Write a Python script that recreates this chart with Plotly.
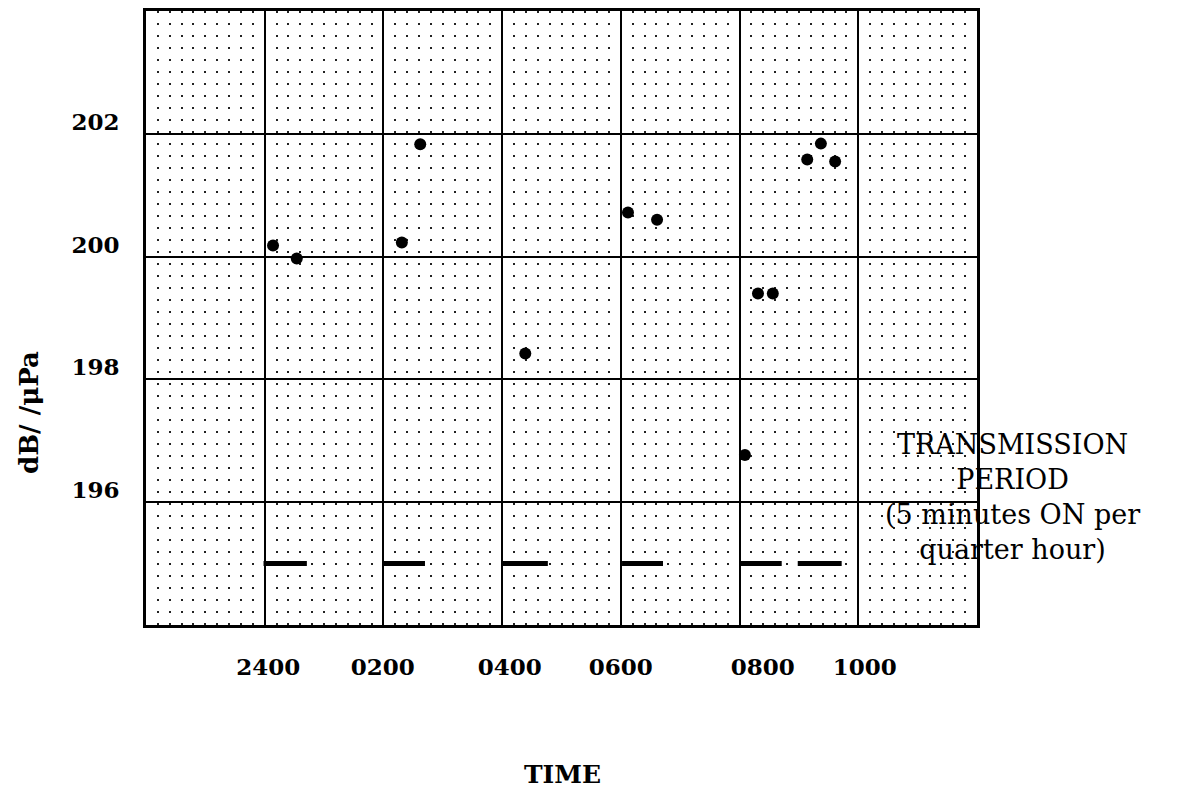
import plotly.graph_objects as go

# ---- data (hours since 2200 of the previous day; 24 = 2400) ----
time_h = [24.14, 24.54, 26.31, 26.62, 28.39, 30.12, 30.61, 32.09, 32.31, 32.56, 33.14, 33.37, 33.61]
level_db = [200.18, 199.97, 200.23, 201.83, 198.42, 200.72, 200.60, 196.77, 199.40, 199.40, 201.58, 201.84, 201.55]

tx_start = [23.98, 25.99, 28.01, 30.02, 32.01, 32.98]
tx_end = [24.71, 26.70, 28.77, 30.71, 32.71, 33.72]
tx_level = 195.0

x_tick_pos = [24.06, 25.99, 28.13, 30.0, 32.39, 34.11]
x_tick_text = ["2400", "0200", "0400", "0600", "0800", "1000"]
y_tick_vals = [196, 198, 200, 202]
y_tick_text = ["196", "198", "200", "202"]

FONT = "DejaVu Serif"
W, H = 1181, 790
L, R, T, B = 138, 212, 0, 173
PW, PH = W - L - R, H - T - B
OFF = 8  # page body margin


def px(sx):
    return (sx - OFF - L) / PW


def py(sy):
    return (H - B - (sy - OFF)) / PH


# transmission segments
seg_x, seg_y = [], []
for s, e in zip(tx_start, tx_end):
    seg_x += [s, e, None]
    seg_y += [tx_level, tx_level, None]

fig = go.Figure()
fig.add_trace(go.Scatter(x=seg_x, y=seg_y, mode="lines",
                         line=dict(color="black", width=5), hoverinfo="skip",
                         showlegend=False))
fig.add_trace(go.Scatter(x=time_h, y=level_db, mode="markers",
                         marker=dict(color="black", size=12),
                         showlegend=False))
fig.add_trace(go.Scatter(x=[None], y=[None], xaxis="x2", yaxis="y",
                         showlegend=False, hoverinfo="skip"))

tickfont = dict(family=FONT, size=23, color="black", weight="bold")

fig.update_layout(
    width=W, height=H,
    margin=dict(l=L, r=R, t=T, b=B),
    paper_bgcolor="white", plot_bgcolor="white",
    font=dict(family=FONT, color="black", size=22),
    xaxis=dict(range=[22, 36], dtick=2, tick0=22,
               showgrid=True, gridcolor="black", gridwidth=2,
               minor=dict(dtick=0.2, tick0=22, showgrid=True, gridcolor="#222",
                          gridwidth=2, griddash="2px,10px"),
               showticklabels=False, ticks="", zeroline=False,
               showline=True, linecolor="black", linewidth=3, mirror=True),
    xaxis2=dict(range=[22, 36], overlaying="x", side="bottom", anchor="y",
                tickmode="array", tickvals=x_tick_pos, ticktext=x_tick_text,
                showgrid=False, ticks="", zeroline=False, showline=False,
                ticklabelstandoff=26, tickfont=tickfont),
    yaxis=dict(range=[194, 204], tickmode="array", tickvals=y_tick_vals,
               ticktext=y_tick_text,
               showgrid=True, gridcolor="black", gridwidth=2,
               ticks="", zeroline=False,
               showline=True, linecolor="black", linewidth=3, mirror=True,
               ticklabelstandoff=19, ticklabelshift=-12, tickfont=tickfont),
)

fig.add_annotation(xref="paper", yref="paper", x=px(562), y=py(775),
                   text="TIME", showarrow=False,
                   font=dict(family=FONT, size=25, weight="bold"),
                   xanchor="center", yanchor="middle")
fig.add_annotation(xref="paper", yref="paper", x=px(29), y=py(412),
                   text="dB/ /μPa", textangle=-90, showarrow=False,
                   font=dict(family=FONT, size=26, weight="bold"),
                   xanchor="center", yanchor="middle")
fig.add_annotation(xref="paper", yref="paper", x=px(1012), y=py(496),
                   text="TRANSMISSION<br>PERIOD<br>(5 minutes ON per<br>quarter hour)",
                   showarrow=False, align="center",
                   font=dict(family=FONT, size=27), xanchor="center", yanchor="middle")

fig.write_html("out.html")
